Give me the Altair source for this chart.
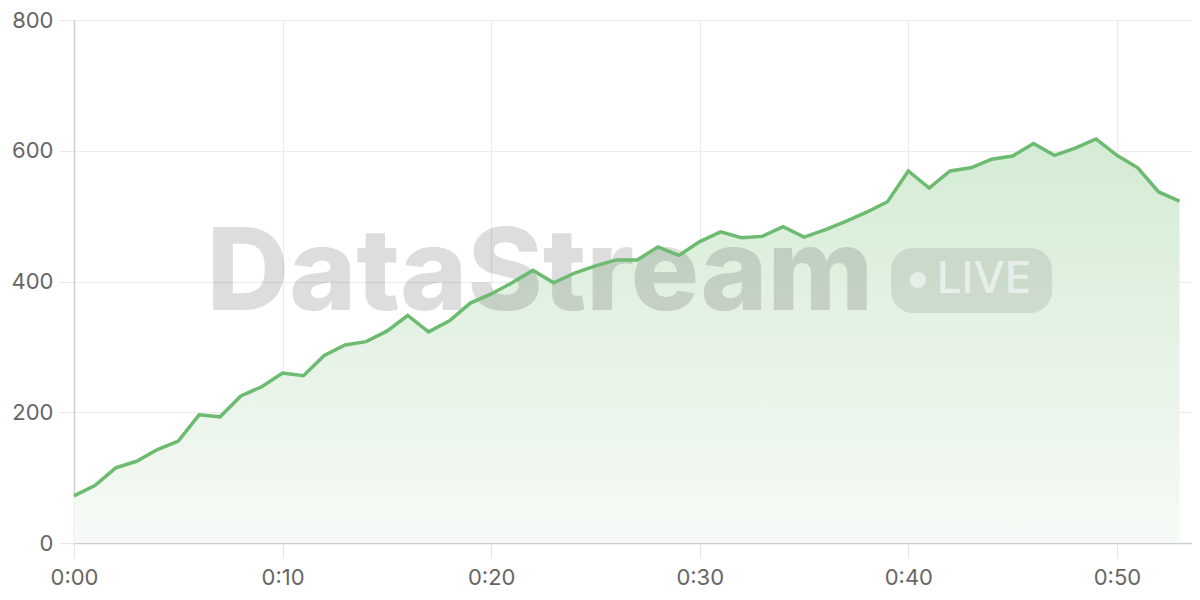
import altair as alt
import pandas as pd

minutes = list(range(54))
viewers = [72, 88, 115, 125, 143, 156, 196, 193, 225, 239,
           260, 256, 287, 303, 308, 324, 348, 323, 340, 367,
           381, 398, 417, 398, 413, 424, 433, 433, 453, 440,
           461, 476, 467, 469, 484, 468, 479, 492, 506, 522,
           569, 543, 569, 574, 587, 592, 611, 593, 604, 618,
           593, 574, 537, 523]
x_ticks = [0, 10, 20, 30, 40, 50]
y_ticks = [0, 200, 400, 600, 800]

df = pd.DataFrame({"minute": minutes, "viewers": viewers})

LINE = "#6dbb70"
FONT = "Inter"

x_enc = alt.X("minute:Q",
              scale=alt.Scale(domain=[0, 53.6], nice=False, zero=False),
              axis=alt.Axis(values=x_ticks, title=None, labelFlush=False,
                            labelExpr="'0:' + (datum.value < 10 ? '0' : '') + datum.value"))
y_enc = alt.Y("viewers:Q",
              scale=alt.Scale(domain=[0, 800], nice=False),
              axis=alt.Axis(values=y_ticks, title=None, labelFlush=False))

base = alt.Chart(df)

area = base.mark_area(
    color=alt.Gradient(
        gradient="linear",
        stops=[alt.GradientStop(color="#d4ebd4", offset=0),
               alt.GradientStop(color="#f6faf6", offset=1)],
        x1=1, x2=1, y1=0, y2=1),
    interpolate="linear",
).encode(x=x_enc, y=y_enc)

wm_text = alt.Chart(pd.DataFrame({"t": ["DataStream"]})).mark_text(
    font=FONT, fontSize=114, fontWeight=800, color="#000000", opacity=0.13,
    align="center", baseline="alphabetic",
).encode(text="t:N", x=alt.value(466), y=alt.value(290))

pill = alt.Chart(pd.DataFrame({"a": [1]})).mark_rect(
    color="#000000", opacity=0.09, cornerRadius=22,
).encode(x=alt.value(817), x2=alt.value(978), y=alt.value(228), y2=alt.value(293))

dot = alt.Chart(pd.DataFrame({"a": [1]})).mark_point(
    filled=True, shape="circle", size=260, color="#ffffff", opacity=0.55,
).encode(x=alt.value(844), y=alt.value(260))

live = alt.Chart(pd.DataFrame({"t": ["LIVE"]})).mark_text(
    font=FONT, fontSize=44, fontWeight=500, color="#ffffff", opacity=0.55,
    align="center", baseline="middle",
).encode(text="t:N", x=alt.value(910), y=alt.value(260))

line = base.mark_line(color=LINE, strokeWidth=3.5, interpolate="linear").encode(x=x_enc, y=y_enc)

chart = alt.layer(area, wm_text, pill, dot, live, line).properties(
    width=1118, height=523,
    autosize=alt.AutoSizeParams(type="none"),
    padding={"left": 66, "top": 12, "right": 0, "bottom": 49},
).configure_view(stroke=None).configure_axis(
    labelFont=FONT, labelFontSize=22, labelColor="#666666",
    domainColor="#cfcfcf", domainWidth=1.5,
    gridColor="#ebebeb", gridWidth=1.2,
    tickColor="#e6e6e6", tickSize=15, tickWidth=1.2,
).configure_axisX(labelPadding=9).configure_axisY(labelPadding=6)

chart.save("out.html", embed_options={"renderer": "svg", "actions": False})
